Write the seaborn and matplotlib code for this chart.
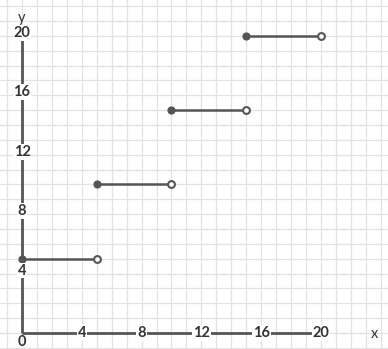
import matplotlib
matplotlib.use("Agg")
import matplotlib.pyplot as plt
import seaborn as sns
import pandas as pd
import numpy as np

# data
seg_start = [0, 5, 10, 15]
seg_end = [5, 10, 15, 20]
seg_value = [5, 10, 15, 20]
x_ticks = [4, 8, 12, 16, 20]
y_ticks = [4, 8, 12, 16, 20]

sns.set_theme(style="white")
plt.rcParams['font.family'] = ['Lato', 'DejaVu Sans']

fig = plt.figure(figsize=(3.88, 3.49), dpi=100)
ax = fig.add_axes([0, 0, 1, 1])
ax.set_xlim(-1.47, 24.48)
ax.set_ylim(-1.08, 22.42)

# grid
for gx in range(-1, 25):
    ax.axvline(gx, color="#e3e3e3", lw=0.9, zorder=0)
for gy in range(-1, 23):
    ax.axhline(gy, color="#e3e3e3", lw=0.9, zorder=0)

axc = "#555555"
ax.plot([0, 20], [0, 0], color=axc, lw=2, zorder=2, solid_capstyle="butt")
ax.plot([0, 0], [0, 20], color=axc, lw=2, zorder=2, solid_capstyle="butt")

rows = []
for i, (a, b, v) in enumerate(zip(seg_start, seg_end, seg_value)):
    rows.append(dict(seg=i, x=a, y=v))
    rows.append(dict(seg=i, x=b, y=v))
df = pd.DataFrame(rows)
sns.lineplot(data=df, x="x", y="y", units="seg", estimator=None, color=axc,
             lw=1.8, ax=ax, zorder=3, legend=False)

closed = pd.DataFrame(dict(x=seg_start, y=seg_value))
opened = pd.DataFrame(dict(x=seg_end, y=seg_value))
sns.scatterplot(data=closed, x="x", y="y", ax=ax, color=axc, s=24,
                edgecolor=axc, linewidth=1, zorder=4, legend=False)
sns.scatterplot(data=opened, x="x", y="y", ax=ax, color="white", s=24,
                edgecolor=axc, linewidth=1.5, zorder=4, legend=False)

tc = "#333333"
bb = dict(facecolor="white", edgecolor="none", pad=0.6)
for t in x_ticks:
    ax.text(t, 0, str(t), ha="center", va="center", fontsize=10.5,
            fontweight="bold", color=tc, bbox=bb, zorder=5)
for t in y_ticks:
    ax.text(0, t + 0.2, str(t), ha="center", va="center", fontsize=10.5,
            fontweight="bold", color=tc, bbox=bb, zorder=5)
ax.text(0, -0.6, "0", ha="center", va="center", fontsize=10.5,
        fontweight="bold", color=tc, zorder=5)
ax.text(23.6, -0.05, "x", ha="center", va="center", fontsize=10.5, color=tc)
ax.text(0, 21.2, "y", ha="center", va="center", fontsize=10.5, color=tc)

ax.set_xlabel("")
ax.set_ylabel("")
ax.set_xticks([])
ax.set_yticks([])
for s in ax.spines.values():
    s.set_visible(False)

fig.savefig("out.png", dpi=100)
